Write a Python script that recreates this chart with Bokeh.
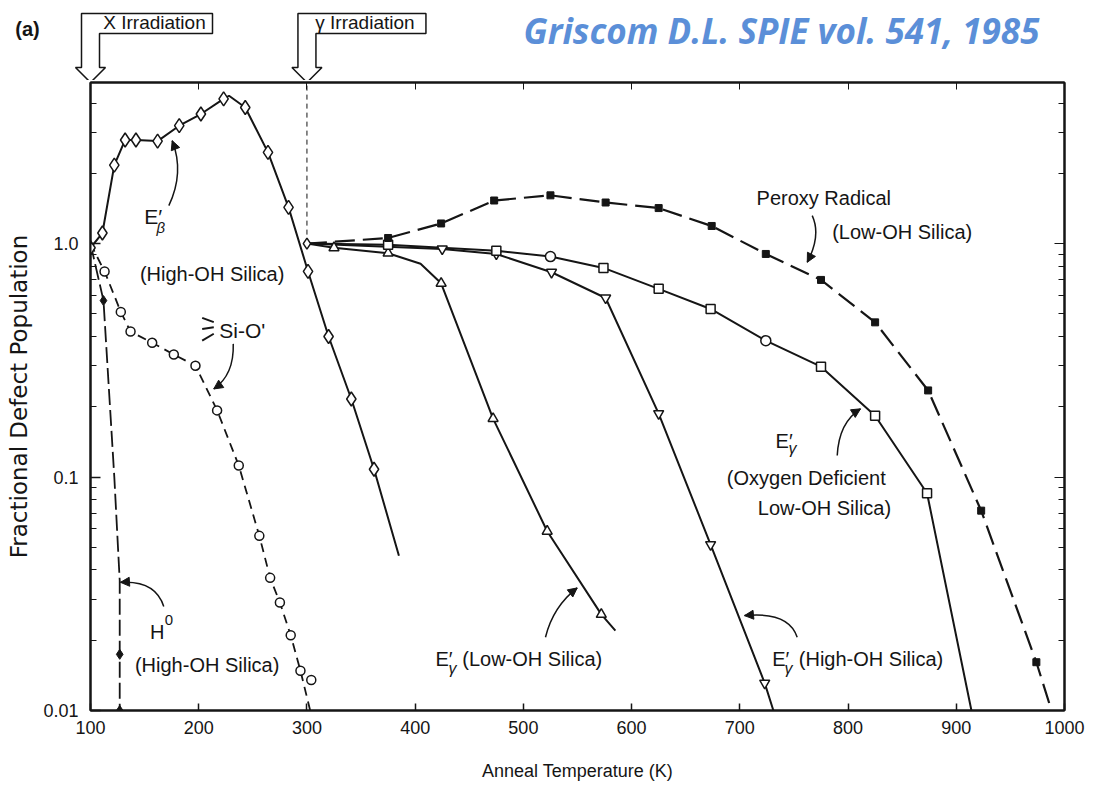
from bokeh.plotting import figure
from bokeh.layouts import column
from bokeh.core.properties import value
from bokeh.models import (Range1d, LogAxis, LinearAxis, FixedTicker,
                          CustomJSTickFormatter, Label, Arrow, NormalHead)
from bokeh.embed import file_html
from bokeh.resources import INLINE

FONT = "Liberation Sans"
INK = "#151515"

# ---------------------------------------------------------------------------
# Isochronal anneal data: temperature (K) vs fractional defect population
# ---------------------------------------------------------------------------
# E'_beta centres, high-OH silica (X-irradiated at 100 K)
eb_temp = [100, 111, 122, 132, 142, 162, 182, 202, 223, 243, 264, 283, 301, 320, 341, 362]
eb_frac = [0.96, 1.11, 2.17, 2.78, 2.78, 2.75, 3.20, 3.59, 4.17, 3.83, 2.46, 1.43, 0.76, 0.40, 0.216, 0.108]
eb_curve_temp = [100, 111, 122, 132, 142, 162, 182, 202, 223, 228, 243, 264, 283, 301, 320, 341, 362, 385]
eb_curve_frac = [0.96, 1.11, 2.17, 2.78, 2.78, 2.75, 3.20, 3.59, 4.17, 4.30, 3.83, 2.46, 1.43, 0.76, 0.40, 0.216, 0.108, 0.046]

# Non-bridging oxygen hole centre (=Si-O.), high-OH silica
sio_temp = [113, 128, 137, 157, 177, 197, 217, 237, 256, 266, 275, 285, 294, 304]
sio_frac = [0.76, 0.51, 0.42, 0.376, 0.335, 0.30, 0.193, 0.112, 0.056, 0.037, 0.029, 0.021, 0.0148, 0.0135]
sio_curve_temp = [100, 113, 128, 137, 157, 177, 197, 217, 237, 256, 266, 275, 285, 294, 303]
sio_curve_frac = [1.0, 0.76, 0.51, 0.42, 0.376, 0.335, 0.30, 0.193, 0.112, 0.056, 0.037, 0.029, 0.021, 0.0148, 0.01]

# Atomic hydrogen H0, high-OH silica
h0_temp = [112, 127, 127]
h0_frac = [0.57, 0.0174, 0.01]
h0_curve_temp = [100, 112, 122, 127, 127]
h0_curve_frac = [1.0, 0.57, 0.10, 0.036, 0.01]

# Common starting point of the gamma-irradiated samples
gstart_temp = [300]
gstart_frac = [1.0]

# E'_gamma, low-OH silica
egl_temp = [325, 375, 424, 472, 522, 572]
egl_frac = [0.96, 0.91, 0.676, 0.178, 0.0586, 0.0258]
egl_curve_temp = [300, 325, 375, 405, 424, 472, 522, 572, 585]
egl_curve_frac = [1.0, 0.96, 0.91, 0.82, 0.676, 0.178, 0.0586, 0.0258, 0.022]

# E'_gamma, high-OH silica
egh_temp = [425, 475, 526, 576, 625, 673, 723]
egh_frac = [0.949, 0.903, 0.754, 0.585, 0.187, 0.0514, 0.0131]
egh_curve_temp = [300, 425, 475, 526, 576, 625, 673, 723, 731]
egh_curve_frac = [1.0, 0.949, 0.903, 0.754, 0.585, 0.187, 0.0514, 0.0131, 0.01]

# E'_gamma, oxygen-deficient low-OH silica (two runs: squares and circles)
ego_sq_temp = [375, 475, 574, 625, 673, 775, 825, 873]
ego_sq_frac = [0.99, 0.933, 0.787, 0.640, 0.525, 0.297, 0.183, 0.0852]
ego_ci_temp = [525, 724]
ego_ci_frac = [0.880, 0.384]
ego_curve_temp = [300, 375, 475, 525, 574, 625, 673, 724, 775, 825, 873, 914]
ego_curve_frac = [1.0, 0.99, 0.933, 0.880, 0.787, 0.640, 0.525, 0.384, 0.297, 0.183, 0.0852, 0.01]

# Peroxy radical, low-OH silica
per_temp = [375, 424, 473, 525, 576, 625, 674, 724, 775, 825, 874, 923, 974]
per_frac = [1.057, 1.22, 1.53, 1.61, 1.50, 1.42, 1.19, 0.903, 0.699, 0.46, 0.235, 0.0718, 0.0161]
per_curve_temp = [300] + per_temp + [988]
per_curve_frac = [1.0] + per_frac + [0.01]

# Axis ticks
x_ticks = [100, 200, 300, 400, 500, 600, 700, 800, 900, 1000]
y_major = [0.01, 0.1, 1.0]
y_minor = [m * d for d in (0.01, 0.1, 1.0) for m in range(2, 10) if m * d < 4.9]

# ---------------------------------------------------------------------------
T_MIN, T_MAX = 100, 1000
Y_MIN, Y_MAX = 0.01, 4.9
FRAME_L, FRAME_W, FRAME_H = 90, 974, 628
HEADER_H = 80
TOTAL_W = 1102
FRAME_R = TOTAL_W - FRAME_L - FRAME_W

p = figure(frame_width=FRAME_W, frame_height=FRAME_H,
           x_range=Range1d(T_MIN, T_MAX), y_range=Range1d(Y_MIN, Y_MAX),
           y_axis_type="log", output_backend="svg", toolbar_location=None,
           min_border_left=FRAME_L, min_border_right=FRAME_R,
           min_border_top=2, min_border_bottom=82,
           background_fill_color="white", border_fill_color="white")
p.xgrid.visible = False
p.ygrid.visible = False
p.outline_line_color = INK
p.outline_line_width = 2

xax = p.xaxis[0]
xax.ticker = FixedTicker(ticks=x_ticks)
xax.axis_label = "Anneal Temperature (K)"
xax.axis_label_text_font = FONT
xax.axis_label_text_font_style = "normal"
xax.axis_label_text_font_size = "18px"
xax.axis_label_text_color = INK
xax.axis_label_standoff = 24
xax.major_label_text_font = FONT
xax.major_label_text_font_size = "18px"
xax.major_label_text_color = INK
xax.major_label_standoff = 10
xax.major_tick_in = 7
xax.major_tick_out = 0
xax.minor_tick_line_color = None
xax.axis_line_width = 2
xax.axis_line_color = INK
xax.major_tick_line_color = INK
xax.major_tick_line_width = 1.5

yax = p.yaxis[0]
yax.ticker = FixedTicker(ticks=y_major, minor_ticks=y_minor)
yax.formatter = CustomJSTickFormatter(code="return tick >= 1 ? tick.toFixed(1) : String(tick);")
yax.axis_label = "Fractional Defect Population"
yax.axis_label_text_font = "DejaVu Sans"
yax.axis_label_text_font_style = "normal"
yax.axis_label_text_font_size = "23px"
yax.axis_label_text_color = INK
yax.axis_label_standoff = 8
yax.major_label_text_font = FONT
yax.major_label_text_font_size = "18px"
yax.major_label_text_color = INK
yax.major_label_standoff = 12
yax.major_tick_in = 10
yax.major_tick_out = 0
yax.minor_tick_in = 6
yax.minor_tick_out = 0
yax.axis_line_width = 2
yax.axis_line_color = INK
yax.major_tick_line_color = INK
yax.minor_tick_line_color = INK
yax.major_tick_line_width = 1.5

blank = CustomJSTickFormatter(code="return '';")
top_ax = LinearAxis(ticker=FixedTicker(ticks=x_ticks), formatter=blank,
                    major_label_text_font_size="0px", major_label_standoff=0,
                    major_tick_in=7, major_tick_out=0, minor_tick_line_color=None,
                    axis_line_width=2, axis_line_color=INK, major_tick_line_color=INK)
p.add_layout(top_ax, "above")
right_ax = LogAxis(ticker=FixedTicker(ticks=y_major, minor_ticks=y_minor), formatter=blank,
                   major_label_text_font_size="0px", major_label_standoff=0,
                   major_tick_in=10, major_tick_out=0, minor_tick_in=6, minor_tick_out=0,
                   axis_line_width=2, axis_line_color=INK, major_tick_line_color=INK,
                   minor_tick_line_color=INK)
p.add_layout(right_ax, "right")

# gamma-irradiation marker line
p.line([300, 300], [1.0, Y_MAX], line_color=INK, line_width=1, line_dash="5 4")

# curves
p.line(eb_curve_temp, eb_curve_frac, line_color=INK, line_width=2)
p.line(sio_curve_temp, sio_curve_frac, line_color=INK, line_width=1.8, line_dash="9 6")
p.line(h0_curve_temp, h0_curve_frac, line_color=INK, line_width=1.8, line_dash="16 5")
p.line(egl_curve_temp, egl_curve_frac, line_color=INK, line_width=2)
p.line(egh_curve_temp, egh_curve_frac, line_color=INK, line_width=2)
p.line(ego_curve_temp, ego_curve_frac, line_color=INK, line_width=2)
p.line(per_curve_temp, per_curve_frac, line_color=INK, line_width=2.2, line_dash="20 8")

# markers
open_kw = dict(fill_color="white", line_color=INK, line_width=1.5)
p.scatter(eb_temp, eb_frac, marker="diamond", size=14, **open_kw)
p.scatter(sio_temp, sio_frac, marker="circle", size=9, **open_kw)
p.scatter(h0_temp, h0_frac, marker="diamond", size=10, fill_color=INK, line_color=INK)
p.scatter(gstart_temp, gstart_frac, marker="diamond", size=11, **open_kw)
p.scatter(egl_temp, egl_frac, marker="triangle", size=10, **open_kw)
p.scatter(egh_temp, egh_frac, marker="inverted_triangle", size=10, **open_kw)
p.scatter(ego_sq_temp, ego_sq_frac, marker="square", size=9, **open_kw)
p.scatter(ego_ci_temp, ego_ci_frac, marker="circle", size=10, **open_kw)
p.scatter(per_temp, per_frac, marker="square", size=7, fill_color=INK, line_color=INK)

# curved pointer arrows: (start, control, tip) in data coordinates
pointers = [
    ((172.4, 1.455), (186.9, 2.02), (175.5, 2.76)),
    ((231.9, 0.372), (232.8, 0.274), (213.9, 0.2385)),
    ((167.7, 0.0279), (160.1, 0.0362), (127.7, 0.0354)),
    ((520.4, 0.0206), (527.5, 0.0279), (549.7, 0.0335)),
    ((753.0, 0.0206), (745.3, 0.0266), (704.3, 0.0255)),
    ((790.0, 0.1236), (791.5, 0.1715), (811.5, 0.196)),
    ((766.9, 1.318), (775.3, 1.082), (762.3, 0.832)),
]
p.quadratic(x0=[a[0][0] for a in pointers], y0=[a[0][1] for a in pointers],
            cx=[a[1][0] for a in pointers], cy=[a[1][1] for a in pointers],
            x1=[a[2][0] for a in pointers], y1=[a[2][1] for a in pointers],
            line_color=INK, line_width=1.5)
for (s, c, t) in pointers:
    p.add_layout(Arrow(end=NormalHead(size=9, fill_color=INK, line_color=INK, line_width=1),
                       x_start=c[0], y_start=c[1], x_end=t[0], y_end=t[1],
                       line_alpha=0))

# bonds of the =Si-O. label
bonds = [((203.2, 0.481), (213.9, 0.461)),
         ((203.2, 0.431), (213.9, 0.438)),
         ((203.2, 0.384), (213.9, 0.411))]
p.segment(x0=[b[0][0] for b in bonds], y0=[b[0][1] for b in bonds],
          x1=[b[1][0] for b in bonds], y1=[b[1][1] for b in bonds],
          line_color=INK, line_width=2)


def note(x, y, text, size=20, align="center", style="normal", fig=p, font=FONT,
         color=INK, level="annotation"):
    fig.add_layout(Label(x=x, y=y, text=text, text_font=font, text_font_size=f"{size}px",
                         text_font_style=style, text_color=color, text_align=align,
                         text_baseline="middle", level=level))


# E'beta
note(149.6, 1.305, "E\u2032", size=21, align="left")
note(165.0, 1.17, "\u03b2", size=15, style="italic")
note(212.4, 0.742, "(High-OH Silica)")
# =Si-O.
note(240.2, 0.424, "Si-O'", size=21)
# H0
note(161.6, 0.0216, "H", size=20)
note(172.4, 0.0245, "0", size=15)
note(207.8, 0.01574, "(High-OH Silica)")
# E'gamma low-OH
note(418.8, 0.0167, "E\u2032", size=20, align="left")
note(434.5, 0.0152, "\u03b3", size=16, style="italic")
note(443.5, 0.0167, "(Low-OH Silica)", align="left")
# E'gamma high-OH
note(729.9, 0.0167, "E\u2032", size=20, align="left")
note(745.0, 0.0152, "\u03b3", size=16, style="italic")
note(754.5, 0.0167, "(High-OH Silica)", align="left")
# E'gamma oxygen deficient
note(733.0, 0.1433, "E\u2032", size=20, align="left")
note(748.7, 0.1330, "\u03b3", size=16, style="italic")
note(761.4, 0.0995, "(Oxygen Deficient")
note(778.2, 0.074, "Low-OH Silica)")
# Peroxy radical
note(777.6, 1.569, "Peroxy Radical")
note(850.0, 1.118, "(Low-OH Silica)")

# ---------------------------------------------------------------------------
# Header strip (canvas-pixel coordinates): panel tag, irradiation callouts, citation
hdr = figure(frame_width=FRAME_W, frame_height=HEADER_H,
             x_range=Range1d(FRAME_L, FRAME_L + FRAME_W), y_range=Range1d(HEADER_H, 0),
             x_axis_location=None, y_axis_location=None, toolbar_location=None,
             output_backend="svg", min_border_left=FRAME_L, min_border_right=FRAME_R,
             min_border_top=0, min_border_bottom=0, outline_line_color=None,
             background_fill_color="white", border_fill_color="white")
hdr.xgrid.visible = False
hdr.ygrid.visible = False


def callout(temp, box_w, text, text_dx):
    tip = FRAME_L + (temp - T_MIN) * FRAME_W / (T_MAX - T_MIN)
    left = tip - 9
    xs = [left, left + box_w, left + box_w, tip + 9, tip + 9, tip + 15, tip, tip - 15, tip - 9, left]
    ys = [13, 13, 33, 33, 67, 67, 82, 67, 67, 13]
    hdr.patch(xs, ys, fill_color="white", line_color=INK, line_width=1.5, level="overlay")
    note(left + text_dx, 22, text, size=19, fig=hdr, level="overlay")


callout(100, 131, "X Irradiation", 73)
callout(300, 128, "\u03b3 Irradiation", 67)
# panel tag sits left of the frame, so draw it as an unclipped overlay glyph
hdr.text(x=[27], y=[28], text=["(a)"], text_font=value(FONT), text_font_size="20px",
         text_font_style="bold", text_color=INK, text_align="center",
         text_baseline="middle", level="overlay")
note(781, 30, "Griscom D.L. SPIE vol. 541, 1985", size=35, style="bold italic",
     fig=hdr, font="Open Sans", color="#5B8FD8", level="overlay")

layout = column(hdr, p)
open("out.html", "w").write(file_html(layout, INLINE))
